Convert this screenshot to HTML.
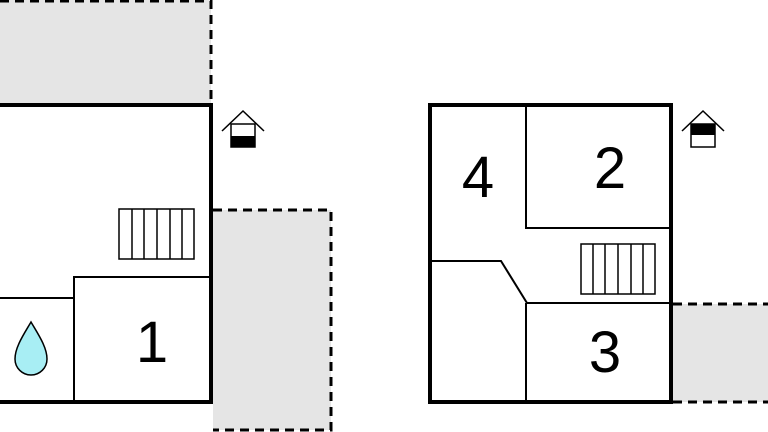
<!DOCTYPE html>
<html><head><style>body{margin:0;background:#fff}svg{display:block}text{font-family:"Liberation Sans",sans-serif;font-size:58px;text-anchor:middle}</style></head><body>
<svg width="768" height="432" viewBox="0 0 768 432">
<rect x="0" y="0" width="211" height="103" fill="#e5e5e5"/>
<path d="M0 1H211V103" fill="none" stroke="#000" stroke-width="3" stroke-dasharray="9,6"/>
<rect x="213" y="210" width="118" height="220" fill="#e5e5e5"/>
<path d="M213 210H331V430H213" fill="none" stroke="#000" stroke-width="3" stroke-dasharray="9,6"/>
<rect x="673" y="304" width="95" height="98" fill="#e5e5e5"/>
<path d="M673 304H768M673 402H768" fill="none" stroke="#000" stroke-width="3" stroke-dasharray="9,6"/>
<g fill="none" stroke="#000">
<path d="M0 105H211V402H0" stroke-width="4"/>
<path d="M74 402V277H211M0 298H74" stroke-width="2"/>
<rect x="430" y="105" width="241" height="297" stroke-width="4"/>
<path d="M526 105V228H671M432 261H501L527 303H671M526 303V402" stroke-width="2"/>
<g stroke-width="1.5">
<rect x="119" y="209" width="75" height="50"/>
<path d="M132 209V259M144 209V259M157 209V259M170 209V259M182 209V259"/>
<rect x="581" y="244" width="74" height="50"/>
<path d="M593 244V294M605 244V294M618 244V294M631 244V294M643 244V294"/>
</g>
<g stroke-width="1.5">
<path d="M222 131L243 111L264 131"/><rect x="231" y="124" width="24" height="23"/>
<path d="M682 131L703 111L724 131"/><rect x="691" y="124" width="24" height="23"/>
</g>
</g>
<rect x="231" y="136" width="24" height="11"/>
<rect x="691" y="124" width="24" height="11"/>
<path d="M31 322C24 334 15 347 15 359A16 16 0 0 0 47 359C47 347 38 334 31 322Z" fill="#a8eef4" stroke="#000" stroke-width="1.5"/>
<text x="152" y="362">1</text>
<text x="610" y="188">2</text>
<text x="605" y="372">3</text>
<text x="478" y="197">4</text>
</svg>
</body></html>
